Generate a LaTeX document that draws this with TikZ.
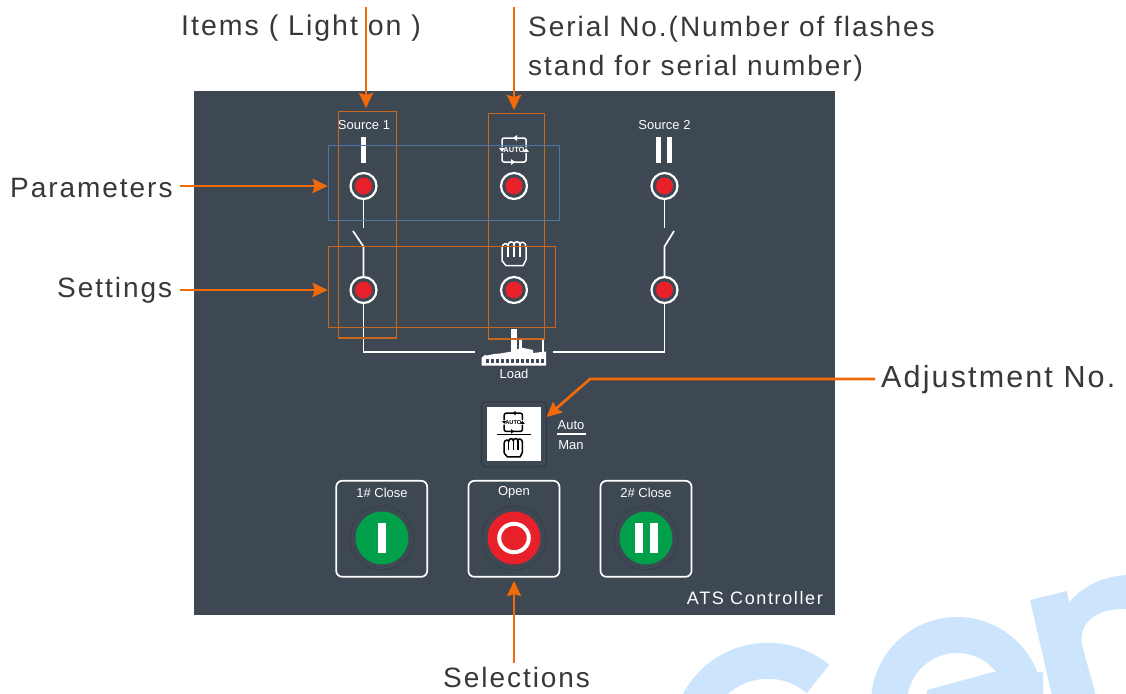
\documentclass[tikz,border=0pt]{standalone}
\usepackage{fontspec}
\setmainfont{Liberation Sans}
\newfontfamily\labelfont[LetterSpace=7]{Liberation Sans}
\newfontfamily\atsfont[LetterSpace=9]{Liberation Sans}
\usetikzlibrary{arrows.meta}
\definecolor{panel}{HTML}{3D4852}
\definecolor{ringdark}{HTML}{232B32}
\definecolor{ledred}{HTML}{E8202A}
\definecolor{btngreen}{HTML}{00A04B}
\definecolor{arroworange}{HTML}{F26A0A}
\definecolor{frameorange}{HTML}{C9661F}
\definecolor{frameblue}{HTML}{4C78A8}
\definecolor{wmblue}{HTML}{CCE5FD}
\newcommand{\pxfont}[1]{\fontsize{#1}{#1}\selectfont}
\tikzset{
  autoicon/.pic={
    \draw[line width=1.5pt, rounded corners=2pt] (-12,-3) -- (-12,-12) -- (12,-12) -- (12,-3);
    \draw[line width=1.5pt, rounded corners=2pt] (-12,3) -- (-12,12) -- (12,12) -- (12,3);
    \fill (-15,-2) -- (-9,-2) -- (-12,2) -- cycle;
    \fill (15,2) -- (9,2) -- (12,-2) -- cycle;
    \fill (3,-15) -- (3,-9) -- (-1,-12) -- cycle;
    \fill (-3,15) -- (-3,9) -- (1,12) -- cycle;
    \node[transform shape, inner sep=0pt] (-text) at (0,0) {\pxfont{7.5}\bfseries AUTO};
  },
  fisticon/.pic={
    \draw[line width=1.5pt, line join=round]
      (-12,-6) .. controls (-12,-11) and (-6,-11) .. (-6,-8)
      .. controls (-6,-13) and (0,-13) .. (0,-9)
      .. controls (0,-13) and (6,-13) .. (6,-9)
      .. controls (6,-13) and (12,-12) .. (12,-7)
      -- (12,6) -- (9,12) -- (-8,12) -- (-12,7) -- cycle;
    \draw[line width=1.5pt] (-6,-8) -- (-6,3) (0,-9) -- (0,3) (6,-9) -- (6,3);
  },
  led/.style = {circle, draw=white, line width=2.2pt, fill=panel, minimum size=26pt, inner sep=0pt,
    path picture={\fill[ledred] (path picture bounding box.center) circle (8.5pt);}},
  paneltext/.style = {text=white, inner sep=0pt},
  label/.style = {font=\labelfont\pxfont{28}, text=black!78, inner sep=0pt, anchor=west},
  framebox/.style = {draw=frameorange, line width=1.2pt, inner sep=0pt},
  btnframe/.style = {draw=white, line width=1.7pt, rounded corners=6pt, minimum width=91pt, minimum height=96pt, inner sep=0pt},
  btnring/.style = {circle, draw=ringdark, dotted, line width=.8pt, minimum size=64pt, inner sep=0pt},
  btnface/.style = {circle, minimum size=53pt, inner sep=0pt},
  wire/.style = {draw=white, line width=1.7pt},
  callout/.style = {draw=arroworange, line width=2.7pt, -{Stealth[length=15pt,width=14pt,inset=2pt]}}
}
\begin{document}
\begin{tikzpicture}[x=1pt, y=-1pt]
    \useasboundingbox (0,0) rectangle (1126,693);
    \fill[white] (0,0) rectangle (1126,693);

    \begin{scope}
    \clip (0,0) rectangle (1126,693);
    \draw[wmblue, line width=36pt] (818,679) arc[start angle=50, end angle=215, radius=78pt];
    \draw[wmblue, line width=36pt] (1025,703) arc[start angle=0, end angle=185, radius=68pt];
    \fill[wmblue] (927,690) -- (993,672) -- (1043,672) -- (1043,700) -- (927,700) -- cycle;
    \fill[wmblue] (1030,600) -- (1067,591) -- (1069,602) .. controls (1085,585) and (1105,575) .. (1130,575)
      -- (1130,609) .. controls (1100,607) and (1078,620) .. (1082,645) -- (1097,700) -- (1053,700) -- cycle;
    \end{scope}

    \fill[panel] (193.5,91) rectangle (835,615);

    \node[paneltext, font=\pxfont{13}] (source1) at (364,125.5) {Source 1};
    \node[paneltext, font=\pxfont{13}] (source2) at (664.5,125.5) {Source 2};
    \node[paneltext, font=\pxfont{13}] (load) at (514,373.5) {Load};
    \fill[white] (361,137) rectangle (366.3,162.7);
    \fill[white] (656,137) rectangle (660.5,162.7);
    \fill[white] (667,137) rectangle (672,162.7);

    \node[led] (led1) at (363.5,186) {};
    \node[led] (led2) at (514,186) {};
    \node[led] (led3) at (664.5,186) {};
    \node[led] (led4) at (363.5,290) {};
    \node[led] (led5) at (514,290) {};
    \node[led] (led6) at (664.5,290) {};

    \coordinate (sw1top) at (363.5,227.5);
    \coordinate (sw1blade) at (353,231);
    \coordinate (sw1low) at (363.5,246.5);
    \coordinate (sw2top) at (664.5,227.5);
    \coordinate (sw2blade) at (674,231);
    \coordinate (sw2low) at (664.5,246.5);
    \coordinate (loadleft) at (475,351.7);
    \coordinate (loadright) at (553,351.7);

    \draw[wire] (led1) -- (sw1top);
    \draw[wire] (sw1blade) -- (sw1low) -- (led4);
    \draw[wire] (led3) -- (sw2top);
    \draw[wire] (sw2blade) -- (sw2low) -- (led6);
    \draw[wire] (led4) |- (loadleft);
    \draw[wire] (led6) |- (loadright);

    \fill[white] (511,329) rectangle (516.5,356);
    \fill[white] (519.3,337.7) rectangle (521.7,356);
    \fill[white] (541.7,339) rectangle (544,356);
    \fill[white] (481.7,365.7) -- (481.7,357.7) -- (485,355) -- (487,355.5) -- (494,354) -- (500,353.5) -- (511,351.7)
      -- (521.7,347.7) -- (533,350) -- (533,353) -- (546,351.5) -- (546,365.7) -- cycle;
    \foreach \winx in {486,491,...,541} {
      \fill[panel] (\winx,359.3) rectangle +(2.8,4);
    }

    \pic[color=white] (autotop) at (514,150) {autoicon};
    \pic[color=white] (fisttop) at (514,253.7) {fisticon};

    \node[draw=ringdark, line width=.5pt, rounded corners=4pt, minimum size=65pt, inner sep=0pt] (modering) at (514,434.3) {};
    \node[fill=white, minimum size=54pt, inner sep=0pt] (modebox) at (514,434.3) {};
    \pic[color=black, scale=.76] (autobox) at (513.3,422.3) {autoicon};
    \pic[color=black, scale=.76] (fistbox) at (513.3,447.7) {fisticon};
    \coordinate (boxleft) at (497,434);
    \coordinate (boxright) at (531,434);
    \draw[black, line width=1pt] (boxleft) -- (boxright);

    \node[paneltext, font=\pxfont{13}] (auto) at (571,424.7) {Auto};
    \node[paneltext, font=\pxfont{13}] (man) at (571,445) {Man};
    \coordinate (ruleleft) at (557,434);
    \coordinate (ruleright) at (585.7,434);
    \draw[white, line width=1.1pt] (ruleleft) -- (ruleright);

    \node[btnframe] (close1) at (381.7,528.8) {};
    \node[btnframe] (open) at (513.9,528.8) {};
    \node[btnframe] (close2) at (646,528.8) {};
    \node[paneltext, font=\pxfont{13}] (close1text) at (382,493) {1\# Close};
    \node[paneltext, font=\pxfont{13}] (opentext) at (514,492) {Open};
    \node[paneltext, font=\pxfont{13}] (close2text) at (646,493) {2\# Close};

    \node[btnring] (ring1) at (382,538) {};
    \node[btnring] (ring2) at (514,538) {};
    \node[btnring] (ring3) at (646,538) {};
    \node[btnface, fill=btngreen] (face1) at (382,538) {};
    \node[btnface, fill=ledred] (face2) at (514,538) {};
    \node[btnface, fill=btngreen] (face3) at (646,538) {};
    \fill[white] (377.7,522.7) rectangle (385.7,553.3);
    \draw[white, line width=4pt] (face2.center) ellipse [x radius=14.8pt, y radius=14.2pt];
    \fill[white] (634.7,522.7) rectangle (642.7,553.3);
    \fill[white] (650,522.7) rectangle (658,553.3);

    \node[text=white, inner sep=0pt, anchor=east, font=\atsfont\pxfont{18}] (ats) at (823,598) {ATS\hspace{.35em}Controller};

    \node[framebox, minimum width=58pt, minimum height=226.7pt] (itemsbox) at (367.7,224.7) {};
    \node[framebox, minimum width=56pt, minimum height=225.7pt] (serialbox) at (516.7,226.2) {};
    \node[framebox, draw=frameblue, minimum width=231.4pt, minimum height=75pt] (paramsbox) at (444,183.2) {};
    \node[framebox, minimum width=227.4pt, minimum height=81pt] (settingsbox) at (442,287.2) {};

    \node[label, font=\labelfont\pxfont{28.5}] (items) at (181,28.5) {Items ( Light on )};
    \node[label] (serial1) at (528,29) {Serial No.(Number of flashes};
    \node[label] (serial2) at (528,68) {stand for serial number)};
    \node[label] (params) at (10,188) {Parameters};
    \node[label] (settings) at (57,290.5) {Settings};
    \node[label, font=\labelfont\pxfont{30.5}] (adjust) at (881,380) {Adjustment No.};
    \node[label] (selections) at (443,677.5) {Selections};

    \coordinate (itemsfrom) at (366,7);
    \coordinate (itemsto) at (366,108);
    \coordinate (serialfrom) at (514,7);
    \coordinate (serialto) at (514,110);
    \coordinate (paramsfrom) at (180,186);
    \coordinate (settingsfrom) at (180,290);
    \coordinate (selfrom) at (514,663);
    \coordinate (selto) at (514,581);
    \coordinate (adjustfrom) at (875,379);
    \coordinate (adjustbend) at (590,379);
    \coordinate (adjustto) at (546.5,417);

    \draw[callout] (itemsfrom) -- (itemsto);
    \draw[callout] (serialfrom) -- (serialto);
    \draw[callout] (paramsfrom) -- (paramsbox.west |- paramsfrom);
    \draw[callout] (settingsfrom) -- (settingsbox.west |- settingsfrom);
    \draw[callout] (adjustfrom) -- (adjustbend) -- (adjustto);
    \draw[callout] (selfrom) -- (selto);
\end{tikzpicture}
\end{document}
